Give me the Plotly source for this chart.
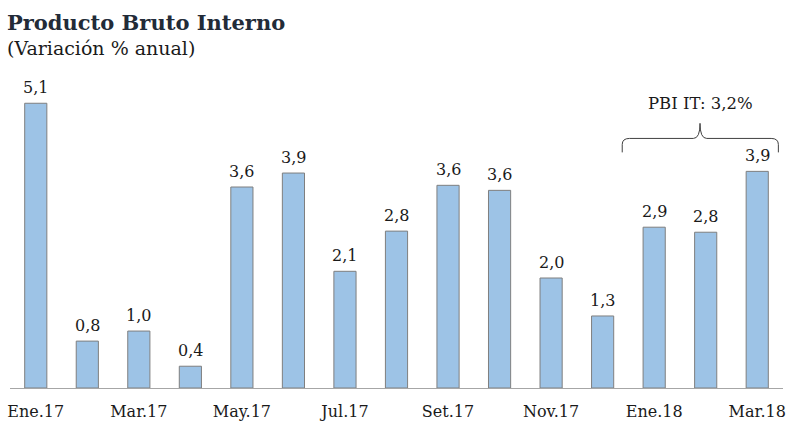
import plotly.graph_objects as go

months = ["Ene.17", "Feb.17", "Mar.17", "Abr.17", "May.17", "Jun.17", "Jul.17", "Ago.17",
          "Set.17", "Oct.17", "Nov.17", "Dic.17", "Ene.18", "Feb.18", "Mar.18"]
values = [5.10, 0.84, 1.02, 0.39, 3.60, 3.85, 2.09, 2.81, 3.63, 3.54, 1.97, 1.29, 2.88, 2.79, 3.88]
labels = ["5,1", "0,8", "1,0", "0,4", "3,6", "3,9", "2,1", "2,8", "3,6", "3,6", "2,0", "1,3", "2,9", "2,8", "3,9"]
tick_idx = list(range(0, 15, 2))
tick_text = [months[i] for i in tick_idx]

FONT = "DejaVu Serif"
x = list(range(len(months)))

# plot-area geometry in pixels (for converting text positions to paper coords)
L, R, T, B = 10, 783, 53, 388
def px(p):
    return (p - L) / (R - L)
def py(p):
    return (B - p) / (B - T)

fig = go.Figure(go.Bar(
    x=x, y=values,
    marker=dict(color="#9DC3E6", line=dict(color="#7f7f7f", width=1)),
    hoverinfo="skip",
))

for xi, v, lab in zip(x, values, labels):
    fig.add_annotation(x=xi, y=v, xref="x", yref="y", text=lab, showarrow=False,
                       yanchor="bottom", yshift=4,
                       font=dict(family=FONT, size=16, color="#1a1a1a"))

# brace over Ene.18 - Mar.18
brace = ("M 11.38,4.22 L 11.38,4.36 Q 11.38,4.47 11.52,4.47 L 12.76,4.47 "
         "Q 12.89,4.47 12.89,4.74 Q 12.89,4.47 13.02,4.47 L 14.27,4.47 "
         "Q 14.41,4.47 14.41,4.36 L 14.41,4.22")
fig.add_shape(type="path", path=brace, xref="x", yref="y",
              line=dict(color="#404040", width=1))
fig.add_annotation(x=12.89, y=5.1, xref="x", yref="y", text="PBI IT: 3,2%",
                   showarrow=False, font=dict(family=FONT, size=16.5, color="#1a1a1a"))

fig.add_annotation(x=px(5), y=py(22), xref="paper", yref="paper",
                   text="<b>Producto Bruto Interno</b>",
                   showarrow=False, xanchor="left", yanchor="middle",
                   font=dict(family=FONT, size=21, color="#222b38"))
fig.add_annotation(x=px(5), y=py(48), xref="paper", yref="paper",
                   text="(Variación % anual)",
                   showarrow=False, xanchor="left", yanchor="middle",
                   font=dict(family=FONT, size=19, color="#1a1a1a"))

fig.update_layout(
    width=788, height=423,
    margin=dict(l=L, r=788 - R, t=T, b=423 - B),
    paper_bgcolor="white", plot_bgcolor="white",
    showlegend=False, bargap=0.57,
    xaxis=dict(tickmode="array", tickvals=tick_idx, ticktext=tick_text,
               range=[-0.5, 14.5], showgrid=False, zeroline=False,
               showline=True, linecolor="#a6a6a6", linewidth=1, ticks="",
               automargin=False, ticklabelstandoff=9,
               tickfont=dict(family=FONT, size=16, color="#1a1a1a")),
    yaxis=dict(range=[0, 6], visible=False),
)
fig.write_html("out.html", config={"displayModeBar": False},
               post_script="document.body.style.margin='0';")
